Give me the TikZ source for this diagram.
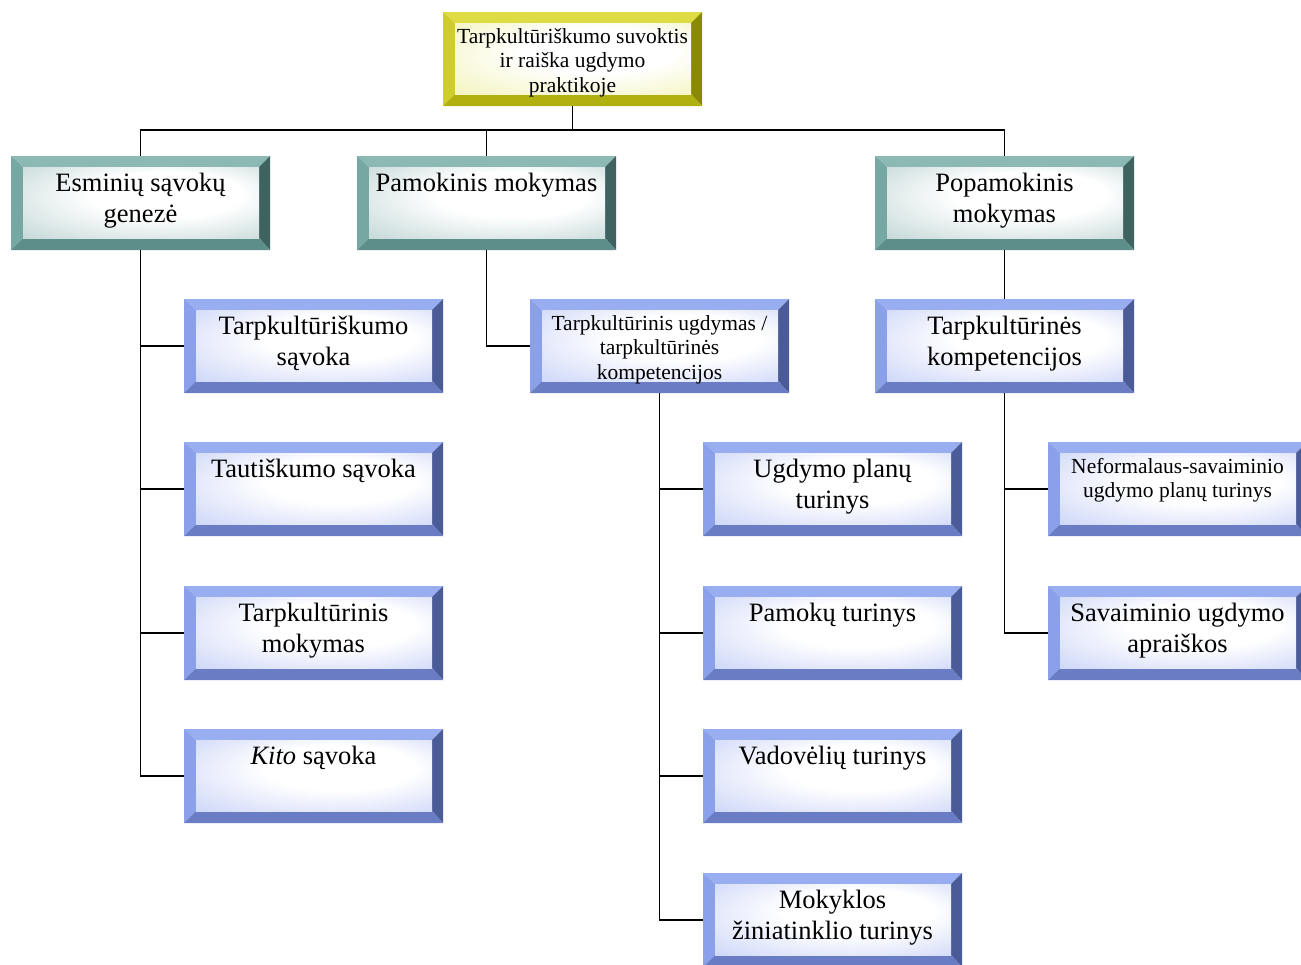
\documentclass[tikz,border=0pt]{standalone}
\usepackage{fontspec}
\setmainfont{Liberation Serif}
\usetikzlibrary{calc}

% bevel colours: top, left, right, bottom, inner tint
\definecolor{ytop}{HTML}{DEDC44}\definecolor{yleft}{HTML}{CFCD2C}
\definecolor{yright}{HTML}{8A8A00}\definecolor{ybot}{HTML}{B0B010}
\definecolor{yface}{HTML}{EEEE9E}
\definecolor{ttop}{HTML}{8DB9B5}\definecolor{tleft}{HTML}{77A7A3}
\definecolor{tright}{HTML}{3F6361}\definecolor{tbot}{HTML}{5E8E8A}
\definecolor{tface}{HTML}{A8C4C4}
\definecolor{btop}{HTML}{98AEF0}\definecolor{bleft}{HTML}{8AA0EA}
\definecolor{bright}{HTML}{4A5B98}\definecolor{bbot}{HTML}{6A7CC4}
\definecolor{bface}{HTML}{B4C2F4}

\pgfdeclareradialshading{glowy}{\pgfpoint{8bp}{8bp}}{color(0bp)=(white); color(16bp)=(white); color(50bp)=(yface)}
\pgfdeclareradialshading{glowt}{\pgfpoint{8bp}{8bp}}{color(0bp)=(white); color(16bp)=(white); color(50bp)=(tface)}
\pgfdeclareradialshading{glowb}{\pgfpoint{8bp}{8bp}}{color(0bp)=(white); color(16bp)=(white); color(50bp)=(bface)}

% four bevel faces and the shaded inner face of a box
\newcommand\bevelfaces[5]{%
  \coordinate (NW) at (path picture bounding box.north west);
  \coordinate (NE) at (path picture bounding box.north east);
  \coordinate (SE) at (path picture bounding box.south east);
  \coordinate (SW) at (path picture bounding box.south west);
  \coordinate (iNW) at ($(NW)+(12,11)$);
  \coordinate (iNE) at ($(NE)+(-11,11)$);
  \coordinate (iSE) at ($(SE)+(-11,-12)$);
  \coordinate (iSW) at ($(SW)+(12,-12)$);
  \fill[#1] (NW)--(NE)--(iNE)--(iNW)--cycle;
  \fill[#2] (NW)--(iNW)--(iSW)--(SW)--cycle;
  \fill[#3] (NE)--(SE)--(iSE)--(iNE)--cycle;
  \fill[#4] (SW)--(iSW)--(iSE)--(SE)--cycle;
  \shade[shading=#5] (iNW) rectangle (iSE);
}

\tikzset{
  box/.style={rectangle, inner sep=0pt, outer sep=0pt, anchor=north west,
    minimum width=259pt, minimum height=94pt},
  yellowbox/.style={box, path picture={\bevelfaces{ytop}{yleft}{yright}{ybot}{glowy}}},
  tealbox/.style={box, path picture={\bevelfaces{ttop}{tleft}{tright}{tbot}{glowt}}},
  bluebox/.style={box, path picture={\bevelfaces{btop}{bleft}{bright}{bbot}{glowb}}},
  link/.style={draw=black, line width=1.6pt},
}

% box text: top aligned, first baseline at a fixed depth
\newcommand\bigtxt[1]{\parbox[c][94pt][t]{250pt}{\centering\fontsize{26.5}{31}\selectfont\rule{0pt}{35.5pt}#1}}
\newcommand\smalltxt[1]{\parbox[c][94pt][t]{250pt}{\centering\fontsize{21.5}{24.5}\selectfont\rule{0pt}{31pt}#1}}

\begin{document}
\begin{tikzpicture}[x=1pt,y=-1pt]
\useasboundingbox (0,0) rectangle (1301,964);

\node[yellowbox] (root) at (443,12) {\smalltxt{Tarpkultūriškumo suvoktis\\ir raiška ugdymo\\praktikoje}};

\node[tealbox] (esm) at (11,156) {\bigtxt{Esminių sąvokų\\genezė}};
\node[tealbox] (pam) at (357,156) {\bigtxt{Pamokinis mokymas}};
\node[tealbox] (pop) at (875,156) {\bigtxt{Popamokinis\\mokymas}};

\node[bluebox] (a1) at (184,299) {\bigtxt{Tarpkultūriškumo\\sąvoka}};
\node[bluebox] (a2) at (184,442) {\bigtxt{Tautiškumo sąvoka}};
\node[bluebox] (a3) at (184,586) {\bigtxt{Tarpkultūrinis\\mokymas}};
\node[bluebox] (a4) at (184,729) {\bigtxt{\textit{Kito} sąvoka}};

\node[bluebox] (ug) at (530,299) {\smalltxt{Tarpkultūrinis ugdymas /\\tarpkultūrinės\\kompetencijos}};
\node[bluebox] (b1) at (703,442) {\bigtxt{Ugdymo planų\\turinys}};
\node[bluebox] (b2) at (703,586) {\bigtxt{Pamokų turinys}};
\node[bluebox] (b3) at (703,729) {\bigtxt{Vadovėlių turinys}};
\node[bluebox] (b4) at (703,873) {\bigtxt{Mokyklos\\žiniatinklio turinys}};

\node[bluebox] (tk) at (875,299) {\bigtxt{Tarpkultūrinės\\kompetencijos}};
\node[bluebox] (c1) at (1048,442) {\smalltxt{Neformalaus-savaiminio\\ugdymo planų turinys}};
\node[bluebox] (c2) at (1048,586) {\bigtxt{Savaiminio ugdymo\\apraiškos}};

% connectors
\coordinate (bus) at ($(root.south)+(0,24)$);
\draw[link] (root.south) -- (bus);
\draw[link] (esm.north) |- (bus);
\draw[link] (pam.north) |- (bus);
\draw[link] (pop.north) |- (bus);

\foreach \n in {a1,a2,a3,a4} \draw[link] (esm.south) |- (\n.west);
\draw[link] (pam.south) |- (ug.west);
\foreach \n in {b1,b2,b3,b4} \draw[link] (ug.south) |- (\n.west);
\draw[link] (pop.south) -- (tk.north);
\foreach \n in {c1,c2} \draw[link] (tk.south) |- (\n.west);
\end{tikzpicture}
\end{document}
